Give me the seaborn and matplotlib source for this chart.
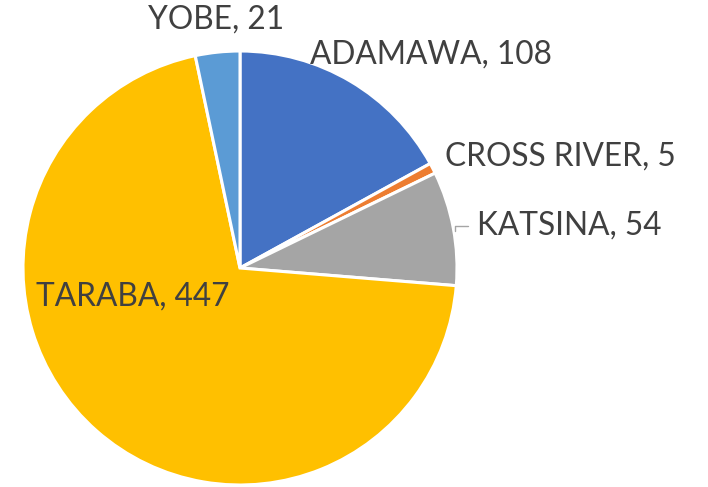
"""
Pie chart of counts per state, Excel-style layout.
"""

import matplotlib.pyplot as plt
import seaborn as sns

# ---------------------------------------------------------------------------
# Data
# ---------------------------------------------------------------------------
states = ['ADAMAWA', 'CROSS RIVER', 'KATSINA', 'TARABA', 'YOBE']
counts = [108, 5, 54, 447, 21]
colors = ['#4472C4', '#ED7D31', '#A5A5A5', '#FFC000', '#5B9BD5']

# label anchor points (pixel coords, left edge / vertical centre)
label_pos = [(310, 55), (445, 157), (477, 226), (36, 297), (148, 20)]

W, H = 708, 487
DPI = 100
sns.set_style('white')
plt.rcParams['font.family'] = ['Lato', 'DejaVu Sans']

fig = plt.figure(figsize=(W / DPI, H / DPI), dpi=DPI)
ax = fig.add_axes([0, 0, 1, 1])

cx, cy, r = 240, H - 268, 217
ax.pie(counts, colors=colors, startangle=90, counterclock=False,
       center=(cx, cy), radius=r,
       wedgeprops=dict(edgecolor='white', linewidth=2.2))

for name, val, (x, y) in zip(states, counts, label_pos):
    ax.text(x, H - y, f'{name}, {val}', ha='left', va='center',
            fontsize=22.8, color='#404040')

# small leader line for KATSINA
ax.plot([455, 455, 468], [H - 231, H - 226, H - 226], color='#A5A5A5', lw=1)

ax.set_xlim(0, W)
ax.set_ylim(0, H)
ax.set_aspect('equal')
ax.axis('off')

fig.savefig('out.png', dpi=DPI)
